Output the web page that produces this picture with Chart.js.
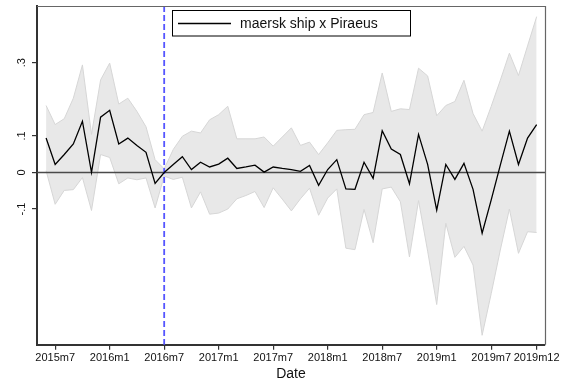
<!DOCTYPE html>
<html>
<head>
<meta charset="utf-8">
<script src="https://cdn.jsdelivr.net/npm/chart.js@4.4.0/dist/chart.umd.min.js"></script>
<style>
    html, body { margin: 0; padding: 0; background: #fff; }
</style>
</head>
<body>
<canvas id="chart" width="568" height="382"></canvas>
<script>
// Monthly categories, 2015m6 .. 2019m12
const months = [
    '2015m6', '2015m7', '2015m8', '2015m9', '2015m10', '2015m11', '2015m12',
    '2016m1', '2016m2', '2016m3', '2016m4', '2016m5', '2016m6', '2016m7', '2016m8', '2016m9', '2016m10', '2016m11', '2016m12',
    '2017m1', '2017m2', '2017m3', '2017m4', '2017m5', '2017m6', '2017m7', '2017m8', '2017m9', '2017m10', '2017m11', '2017m12',
    '2018m1', '2018m2', '2018m3', '2018m4', '2018m5', '2018m6', '2018m7', '2018m8', '2018m9', '2018m10', '2018m11', '2018m12',
    '2019m1', '2019m2', '2019m3', '2019m4', '2019m5', '2019m6', '2019m7', '2019m8', '2019m9', '2019m10', '2019m11', '2019m12'
];
const tickLabels = ['2015m7', '2016m1', '2016m7', '2017m1', '2017m7', '2018m1', '2018m7', '2019m1', '2019m7', '2019m12'];
const yTicks = [-0.1, 0, 0.1, 0.3];
const yTickLabels = ['-.1', '0', '.1', '.3'];
const eventMonth = '2016m7';
const seriesName = 'maersk ship x Piraeus';

// Point estimates
const coef = [
    0.094, 0.022, 0.049, 0.078, 0.140, 0.000, 0.151, 0.170, 0.078, 0.094,
    0.074, 0.055, -0.030, 0.000, 0.022, 0.043, 0.008, 0.028, 0.015, 0.023,
    0.039, 0.011, 0.015, 0.020, 0.001, 0.015, 0.011, 0.008, 0.003, 0.019,
    -0.035, 0.008, 0.035, -0.045, -0.046, 0.028, -0.016, 0.114, 0.064, 0.049,
    -0.031, 0.104, 0.022, -0.103, 0.022, -0.019, 0.025, -0.046, -0.166, -0.075,
    0.020, 0.113, 0.022, 0.094, 0.131
];
// Confidence band
const upper = [
    0.183, 0.131, 0.147, 0.203, 0.294, 0.104, 0.253, 0.299, 0.187, 0.203,
    0.167, 0.125, 0.035, 0.010, 0.063, 0.099, 0.113, 0.108, 0.144, 0.158,
    0.181, 0.092, 0.092, 0.092, 0.097, 0.072, 0.097, 0.122, 0.074, 0.083,
    0.049, 0.081, 0.115, 0.117, 0.118, 0.158, 0.164, 0.272, 0.167, 0.174,
    0.172, 0.285, 0.264, 0.155, 0.183, 0.194, 0.252, 0.161, 0.113, 0.181,
    0.252, 0.326, 0.265, 0.346, 0.426
];
const lower = [
    0.005, -0.087, -0.049, -0.047, -0.014, -0.104, 0.049, 0.041, -0.031, -0.015,
    -0.020, -0.015, -0.097, -0.010, -0.019, -0.013, -0.097, -0.053, -0.114, -0.111,
    -0.100, -0.072, -0.063, -0.052, -0.096, -0.042, -0.073, -0.105, -0.072, -0.043,
    -0.117, -0.070, -0.045, -0.207, -0.211, -0.101, -0.192, -0.045, -0.040, -0.080,
    -0.231, -0.077, -0.215, -0.361, -0.139, -0.232, -0.202, -0.253, -0.445, -0.331,
    -0.212, -0.100, -0.221, -0.162, -0.164
];

const FONT = "'Liberation Sans', Arial, Helvetica, sans-serif";
const toPoints = arr => arr.map((v, i) => ({ x: i, y: v }));

// Zero line, event line, frame, rotated y labels and the boxed legend
const overlayPlugin = {
    id: 'overlay',
    beforeDatasetDraw(chart, args) {
        if (args.index !== 2) return;
        const { ctx, chartArea: a, scales: { x, y } } = chart;
        ctx.save();
        const y0 = y.getPixelForValue(0);
        ctx.strokeStyle = '#4a4a4a';
        ctx.lineWidth = 1.4;
        ctx.beginPath();
        ctx.moveTo(a.left, y0);
        ctx.lineTo(a.right, y0);
        ctx.stroke();

        const xe = x.getPixelForValue(months.indexOf(eventMonth));
        ctx.strokeStyle = '#5555ff';
        ctx.lineWidth = 1.8;
        ctx.setLineDash([6, 3]);
        ctx.beginPath();
        ctx.moveTo(xe, a.top);
        ctx.lineTo(xe, a.bottom);
        ctx.stroke();
        ctx.restore();
    },
    afterDraw(chart) {
        const { ctx, chartArea: a, scales: { y } } = chart;
        ctx.save();
        // top and right edges of the plot region
        ctx.strokeStyle = '#666';
        ctx.lineWidth = 1.2;
        ctx.beginPath();
        ctx.moveTo(a.left, a.top + 0.5);
        ctx.lineTo(a.right + 0.5, a.top + 0.5);
        ctx.lineTo(a.right + 0.5, a.bottom);
        ctx.stroke();

        // rotated y tick labels
        ctx.font = '11px ' + FONT;
        ctx.fillStyle = '#111';
        ctx.textAlign = 'center';
        ctx.textBaseline = 'alphabetic';
        yTicks.forEach((v, k) => {
            ctx.save();
            ctx.translate(a.left - 12, y.getPixelForValue(v));
            ctx.rotate(-Math.PI / 2);
            ctx.fillText(yTickLabels[k], 0, 0);
            ctx.restore();
        });

        // legend box
        ctx.strokeStyle = '#000';
        ctx.lineWidth = 1;
        ctx.strokeRect(172.5, 10.5, 238, 25.5);
        ctx.lineWidth = 1.3;
        ctx.beginPath();
        ctx.moveTo(178, 23.5);
        ctx.lineTo(231, 23.5);
        ctx.stroke();
        ctx.font = '14px ' + FONT;
        ctx.textAlign = 'left';
        ctx.textBaseline = 'middle';
        ctx.fillText(seriesName, 240, 24);
        ctx.restore();
    }
};

const axisGrid = { drawOnChartArea: false, drawTicks: true, tickLength: 5, color: '#333', lineWidth: 1.2 };
const axisBorder = { display: true, color: '#333', width: 2 };

new Chart(document.getElementById('chart').getContext('2d'), {
    type: 'line',
    data: {
        datasets: [
            {
                label: 'upper',
                data: toPoints(upper),
                borderColor: '#d6d6d6',
                borderWidth: 1,
                backgroundColor: '#e8e8e8',
                fill: '+1',
                pointRadius: 0,
                order: 2
            },
            {
                label: 'lower',
                data: toPoints(lower),
                borderColor: '#d6d6d6',
                borderWidth: 1,
                fill: false,
                pointRadius: 0,
                order: 1
            },
            {
                label: seriesName,
                data: toPoints(coef),
                borderColor: '#000',
                borderWidth: 1.3,
                fill: false,
                pointRadius: 0,
                order: 0
            }
        ]
    },
    options: {
        responsive: false,
        animation: false,
        layout: { padding: { top: 6, left: 32, right: 23, bottom: 0 } },
        plugins: {
            legend: { display: false },
            tooltip: { enabled: false }
        },
        elements: { line: { tension: 0 } },
        scales: {
            x: {
                type: 'linear',
                min: -1,
                max: 54.92,
                afterBuildTicks: axis => {
                    axis.ticks = tickLabels.map(l => ({ value: months.indexOf(l) }));
                },
                ticks: {
                    autoSkip: false,
                    maxRotation: 0,
                    minRotation: 0,
                    padding: 2,
                    color: '#111',
                    font: { family: FONT, size: 11 },
                    callback: v => months[v]
                },
                grid: axisGrid,
                border: axisBorder,
                title: {
                    display: true,
                    text: 'Date',
                    color: '#111',
                    font: { family: FONT, size: 14, lineHeight: 1 },
                    padding: { top: 0, bottom: 1 }
                }
            },
            y: {
                type: 'linear',
                min: -0.471,
                max: 0.455,
                afterBuildTicks: axis => {
                    axis.ticks = yTicks.map(v => ({ value: v }));
                },
                ticks: { display: false },
                grid: axisGrid,
                border: axisBorder
            }
        }
    },
    plugins: [overlayPlugin]
});
</script>
</body>
</html>
